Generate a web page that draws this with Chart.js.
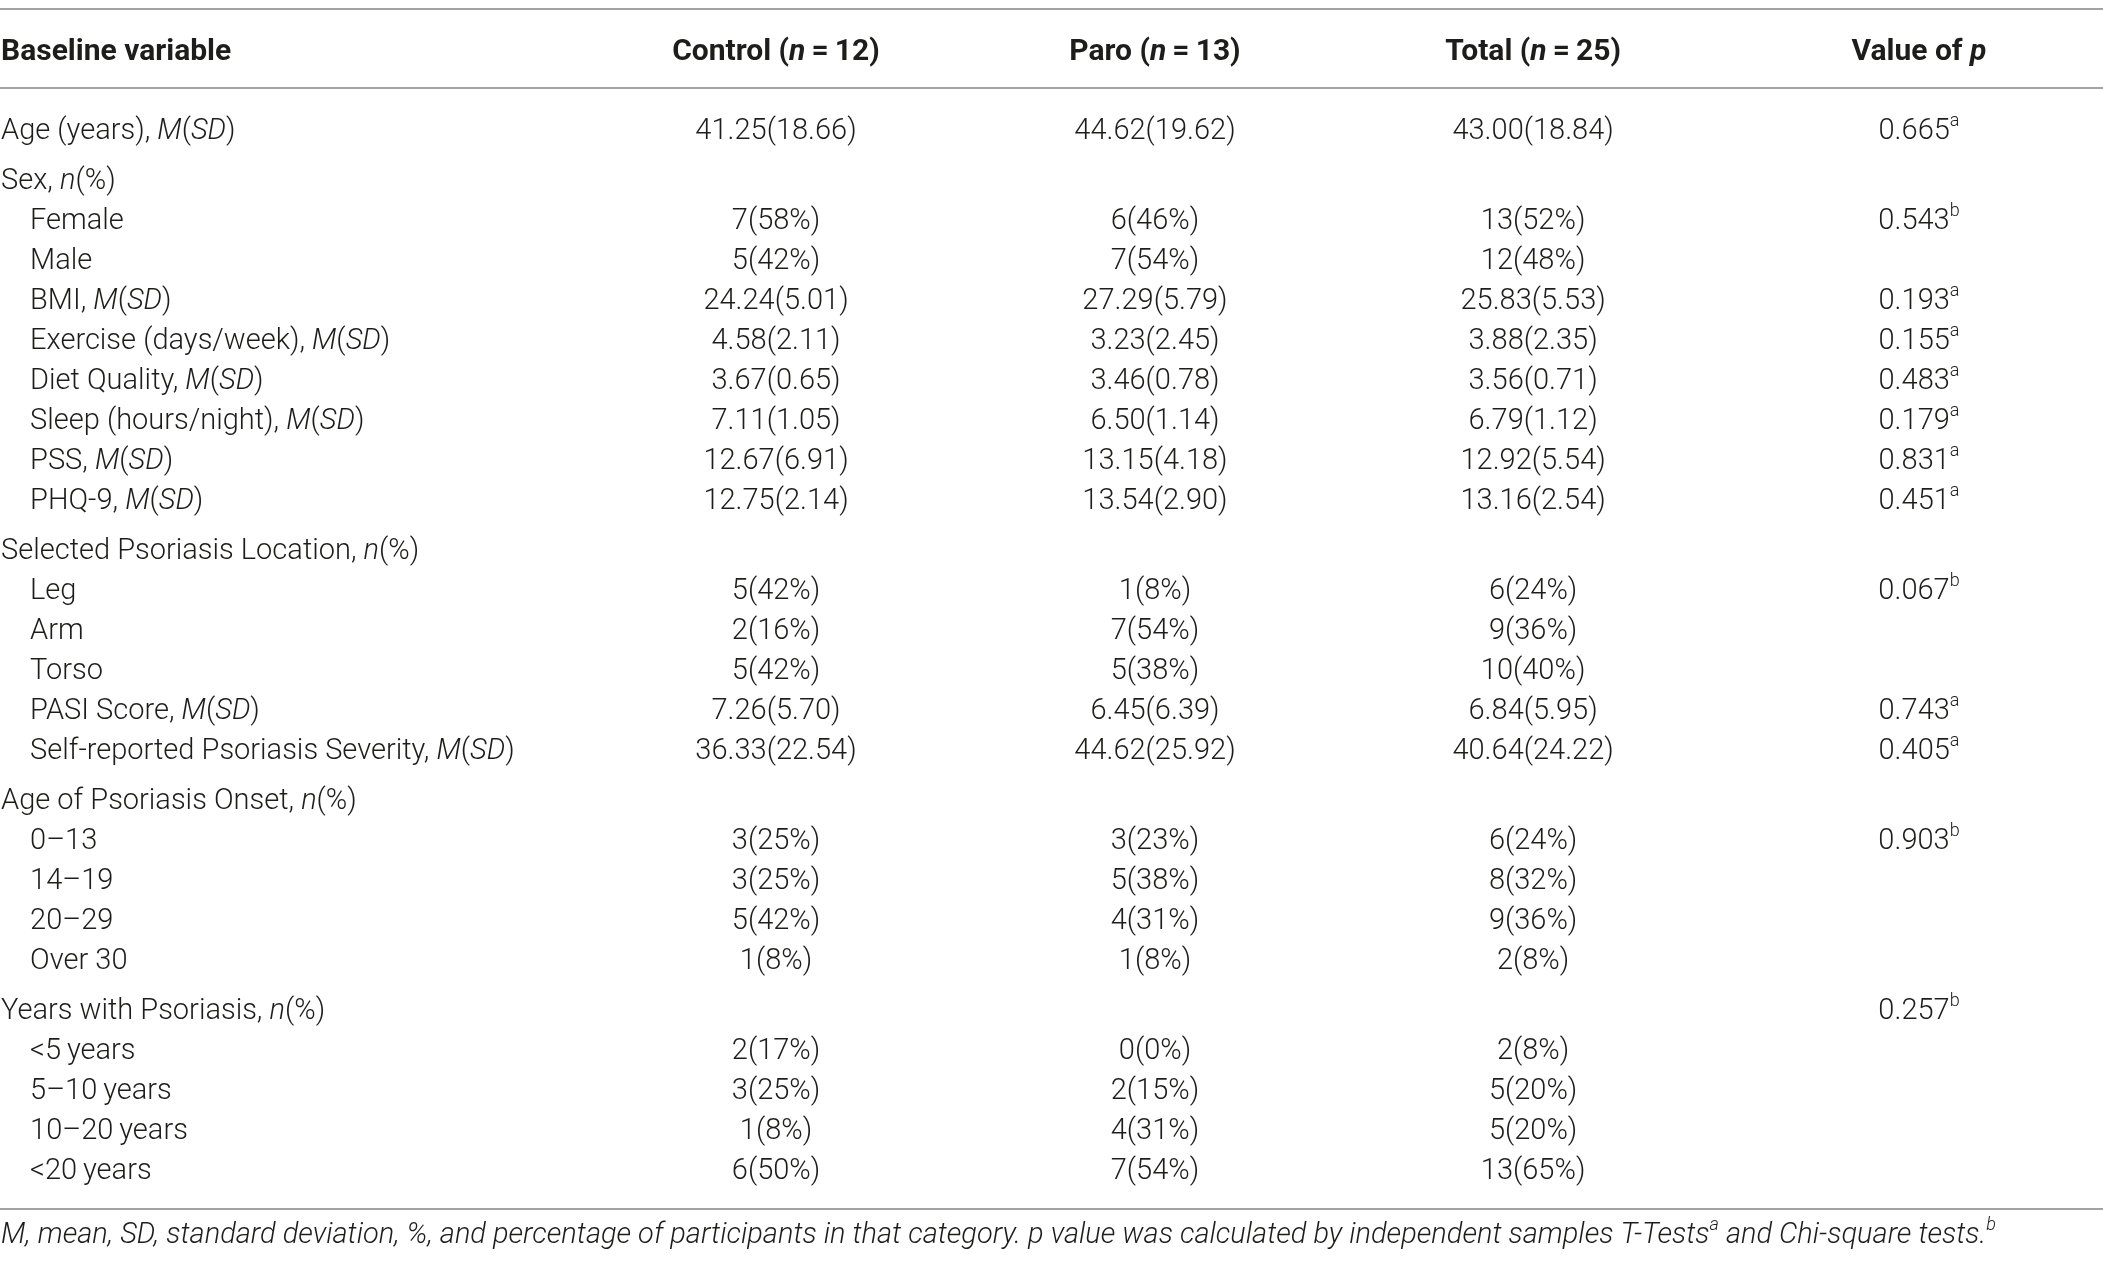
<!DOCTYPE html>
<html>
<head>
<meta charset="utf-8">
<title>Baseline characteristics</title>
<script src="https://cdn.jsdelivr.net/npm/chart.js@4.4.1/dist/chart.umd.min.js"></script>
<style>
  html, body { margin: 0; padding: 0; background: #ffffff; }
  #wrap { width: 2103px; height: 1264px; position: relative; }
</style>
</head>
<body>
<div id="wrap"><canvas id="tableChart"></canvas></div>
<script>
// *text* = italic, ^x = superscript
var headers = ['Baseline variable', 'Control (*n*\u2009=\u200912)', 'Paro (*n*\u2009=\u200913)', 'Total (*n*\u2009=\u200925)', 'Value of *p*'];

var rowLabels = [
  'Age (years), *M*(*SD*)',
  'Sex, *n*(%)',
  'Female',
  'Male',
  'BMI, *M*(*SD*)',
  'Exercise (days/week), *M*(*SD*)',
  'Diet Quality, *M*(*SD*)',
  'Sleep (hours/night), *M*(*SD*)',
  'PSS, *M*(*SD*)',
  'PHQ-9, *M*(*SD*)',
  'Selected Psoriasis Location, *n*(%)',
  'Leg',
  'Arm',
  'Torso',
  'PASI Score, *M*(*SD*)',
  'Self-reported Psoriasis Severity, *M*(*SD*)',
  'Age of Psoriasis Onset, *n*(%)',
  '0\u201313',
  '14\u201319',
  '20\u201329',
  'Over 30',
  'Years with Psoriasis, *n*(%)',
  '<5\u2009years',
  '5\u201310\u2009years',
  '10\u201320\u2009years',
  '<20\u2009years'
];

// rows that start a group (not indented, extra space above)
var groupRows = ['Age (years), *M*(*SD*)', 'Sex, *n*(%)', 'Selected Psoriasis Location, *n*(%)',
  'Age of Psoriasis Onset, *n*(%)', 'Years with Psoriasis, *n*(%)'];

var controlVals = ['41.25(18.66)', '', '7(58%)', '5(42%)', '24.24(5.01)', '4.58(2.11)', '3.67(0.65)',
  '7.11(1.05)', '12.67(6.91)', '12.75(2.14)', '', '5(42%)', '2(16%)', '5(42%)', '7.26(5.70)',
  '36.33(22.54)', '', '3(25%)', '3(25%)', '5(42%)', '1(8%)', '', '2(17%)', '3(25%)', '1(8%)', '6(50%)'];

var paroVals = ['44.62(19.62)', '', '6(46%)', '7(54%)', '27.29(5.79)', '3.23(2.45)', '3.46(0.78)',
  '6.50(1.14)', '13.15(4.18)', '13.54(2.90)', '', '1(8%)', '7(54%)', '5(38%)', '6.45(6.39)',
  '44.62(25.92)', '', '3(23%)', '5(38%)', '4(31%)', '1(8%)', '', '0(0%)', '2(15%)', '4(31%)', '7(54%)'];

var totalVals = ['43.00(18.84)', '', '13(52%)', '12(48%)', '25.83(5.53)', '3.88(2.35)', '3.56(0.71)',
  '6.79(1.12)', '12.92(5.54)', '13.16(2.54)', '', '6(24%)', '9(36%)', '10(40%)', '6.84(5.95)',
  '40.64(24.22)', '', '6(24%)', '8(32%)', '9(36%)', '2(8%)', '', '2(8%)', '5(20%)', '5(20%)', '13(65%)'];

var pVals = ['0.665^a', '', '0.543^b', '', '0.193^a', '0.155^a', '0.483^a', '0.179^a', '0.831^a', '0.451^a',
  '', '0.067^b', '', '', '0.743^a', '0.405^a', '', '0.903^b', '', '', '', '0.257^b', '', '', '', ''];

var footnote = 'M, mean, SD, standard deviation, %, and percentage of participants in that category. p value was calculated by independent samples T-Tests^a and Chi-square tests.^b';

// layout (x in % of width, y in row units)
var colX = [0.05, 36.9, 54.92, 72.9, 91.25];
var indentX = 1.43;
var groupGap = 0.25;
var headerY = -2.0;
var ruleY = [-3.08, -1.1, 26.93];
var footY = 27.6;
var FONT = 'Roboto, "Liberation Sans", sans-serif';
var SIZE = 29;
var HEAD_SIZE = 30;
var FOOT_SIZE = 29;

// y position of each row: index plus extra space before every group except the first
var rowY = [];
var gaps = 0;
for (var i = 0; i < rowLabels.length; i++) {
  if (i > 0 && groupRows.indexOf(rowLabels[i]) >= 0) gaps++;
  rowY.push(i + gaps * groupGap);
}

function parseRich(str, baseItalic) {
  var segs = [], italic = false, buf = '';
  function flush() {
    if (buf) segs.push({ t: buf, it: italic !== !!baseItalic, sup: false });
    buf = '';
  }
  for (var k = 0; k < str.length; k++) {
    var ch = str[k];
    if (ch === '*') { flush(); italic = !italic; }
    else if (ch === '^') { flush(); segs.push({ t: str[k + 1], it: italic !== !!baseItalic, sup: true }); k++; }
    else buf += ch;
  }
  flush();
  return segs;
}

function segFont(s, weight, size) {
  var sz = s.sup ? Math.round(size * 0.62) : size;
  return (s.it ? 'italic ' : '') + weight + ' ' + sz + 'px ' + FONT;
}

function drawRich(ctx, str, x, y, align, weight, size, baseItalic) {
  var segs = parseRich(str, baseItalic);
  var total = 0;
  segs.forEach(function(s) {
    ctx.font = segFont(s, weight, size);
    s.w = ctx.measureText(s.t).width;
    total += s.w;
  });
  var cx = align === 'center' ? x - total / 2 : x;
  segs.forEach(function(s) {
    ctx.font = segFont(s, weight, size);
    ctx.fillText(s.t, cx, s.sup ? y - size * 0.36 : y);
    cx += s.w;
  });
}

function points(col, values) {
  var pts = [];
  for (var r = 0; r < values.length; r++) {
    var x = colX[col];
    if (col === 0 && groupRows.indexOf(values[r]) < 0) x = indentX;
    pts.push({ x: x, y: rowY[r], label: values[r] });
  }
  return pts;
}

var columns = [rowLabels, controlVals, paroVals, totalVals, pVals];
var datasets = columns.map(function(vals, c) {
  return { label: headers[c], data: points(c, vals), pointRadius: 0, showLine: false };
});
// header row
datasets.push({
  label: 'header',
  data: headers.map(function(h, c) { return { x: colX[c], y: headerY, label: h }; }),
  pointRadius: 0, showLine: false
});

var tableText = {
  id: 'tableText',
  afterDatasetsDraw: function(chart) {
    var ctx = chart.ctx;
    var area = chart.chartArea;
    var yScale = chart.scales.y;
    ctx.save();

    // horizontal rules
    ctx.strokeStyle = '#a3a3a3';
    ctx.lineWidth = 2;
    ruleY.forEach(function(v) {
      var py = Math.round(yScale.getPixelForValue(v));
      ctx.beginPath();
      ctx.moveTo(area.left, py);
      ctx.lineTo(area.right, py);
      ctx.stroke();
    });

    ctx.fillStyle = '#1d1d1b';
    ctx.textBaseline = 'middle';
    chart.data.datasets.forEach(function(ds, d) {
      var meta = chart.getDatasetMeta(d);
      var isHeader = ds.label === 'header';
      meta.data.forEach(function(el, j) {
        var p = ds.data[j];
        if (!p.label) return;
        var left = isHeader ? j === 0 : d === 0;
        drawRich(ctx, p.label, el.x, el.y, left ? 'left' : 'center',
          isHeader ? 'bold' : '300', isHeader ? HEAD_SIZE : SIZE, false);
      });
    });

    drawRich(ctx, footnote, area.left + 1, yScale.getPixelForValue(footY), 'left', '300', FOOT_SIZE, true);
    ctx.restore();
  }
};

var ctx = document.getElementById('tableChart').getContext('2d');
var chart = new Chart(ctx, {
  type: 'scatter',
  data: { datasets: datasets },
  options: {
    responsive: true,
    maintainAspectRatio: false,
    animation: false,
    layout: { padding: 0 },
    plugins: { legend: { display: false }, tooltip: { enabled: false } },
    scales: {
      x: { type: 'linear', min: 0, max: 100, display: false },
      y: { type: 'linear', min: -3.3, max: 28.3, reverse: true, display: false }
    }
  },
  plugins: [tableText]
});
</script>
</body>
</html>
